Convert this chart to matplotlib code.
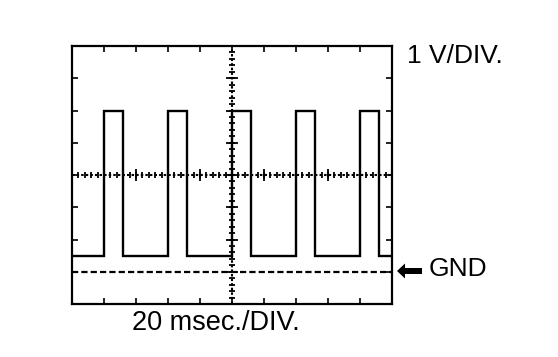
import matplotlib
matplotlib.use('Agg')
import matplotlib.pyplot as plt
from matplotlib.patches import Polygon
import numpy as np

plt.rcParams['font.family'] = ['Liberation Sans', 'DejaVu Sans']

# Waveform data (in divisions)
rise_times = [1.0, 3.0, 5.0, 7.0, 9.0]
fall_times = [1.6, 3.6, 5.6, 7.6, 9.6]
low_level = 1.5
high_level = 6.0
gnd_level = 1.0
x_divs = 10
y_divs = 8

volt_label = '1 V/DIV.'
time_label = '20 msec./DIV.'
gnd_label = 'GND'

# build the square trace from the edge times
xs = [0.0]
ys = [low_level]
for r, f in zip(rise_times, fall_times):
    xs += [r, r, f, f]
    ys += [low_level, high_level, high_level, low_level]
xs.append(x_divs)
ys.append(low_level)

W, H = 558, 357
fig = plt.figure(figsize=(W / 100, H / 100), dpi=100)
ax = fig.add_axes([72 / W, (H - 304) / H, 320 / W, 258 / H])
ax.set_xlim(0, x_divs)
ax.set_ylim(0, y_divs)

for s in ax.spines.values():
    s.set_linewidth(1.6)

ax.set_xticks(range(x_divs + 1))
ax.set_yticks(range(y_divs + 1))
ax.tick_params(direction='in', length=4, width=1.2, labelbottom=False, labelleft=False,
               top=True, right=True)

# center graticule lines with small ticks
cx, cy = x_divs / 2, y_divs / 2
ax.axvline(cx, color='black', lw=1.5, ls=(0, (1.2, 1.0)))
ax.axhline(cy, color='black', lw=1.5, ls=(0, (1.2, 1.0)))
minor_y = np.arange(0, y_divs + 0.01, 0.2)
minor_x = np.arange(0, x_divs + 0.01, 0.2)
ax.plot(np.full(len(minor_y), cx), minor_y, ls='none', marker='_', ms=5, mew=1.3, color='black')
ax.plot(minor_x, np.full(len(minor_x), cy), ls='none', marker='|', ms=5, mew=1.3, color='black')
ax.plot(np.full(y_divs + 1, cx), range(y_divs + 1), ls='none', marker='_', ms=9, mew=1.3, color='black')
ax.plot(range(x_divs + 1), np.full(x_divs + 1, cy), ls='none', marker='|', ms=9, mew=1.3, color='black')

# ground reference
ax.plot([0, x_divs], [gnd_level, gnd_level], color='black', lw=1.6, ls=(0, (2.8, 1.4)))

# signal trace
ax.plot(xs, ys, color='black', lw=1.7, solid_joinstyle='miter')

# labels
fig.text(407 / W, 1 - 56 / H, volt_label, fontsize=19, ha='left', va='center')
fig.text(216 / W, 1 - 323.5 / H, time_label, fontsize=19.5, ha='center', va='center')
fig.text(429 / W, 1 - 269.5 / H, gnd_label, fontsize=19, ha='left', va='center')

# filled arrow pointing at the ground line
arrow_px = [(397, 271), (405, 263.5), (405, 268), (422, 268),
            (422, 274), (405, 274), (405, 278.5)]
fig.patches.append(Polygon([(px / W, 1 - py / H) for px, py in arrow_px], closed=True,
                           transform=fig.transFigure, facecolor='black', edgecolor='none'))

fig.savefig('out.png', dpi=100)
